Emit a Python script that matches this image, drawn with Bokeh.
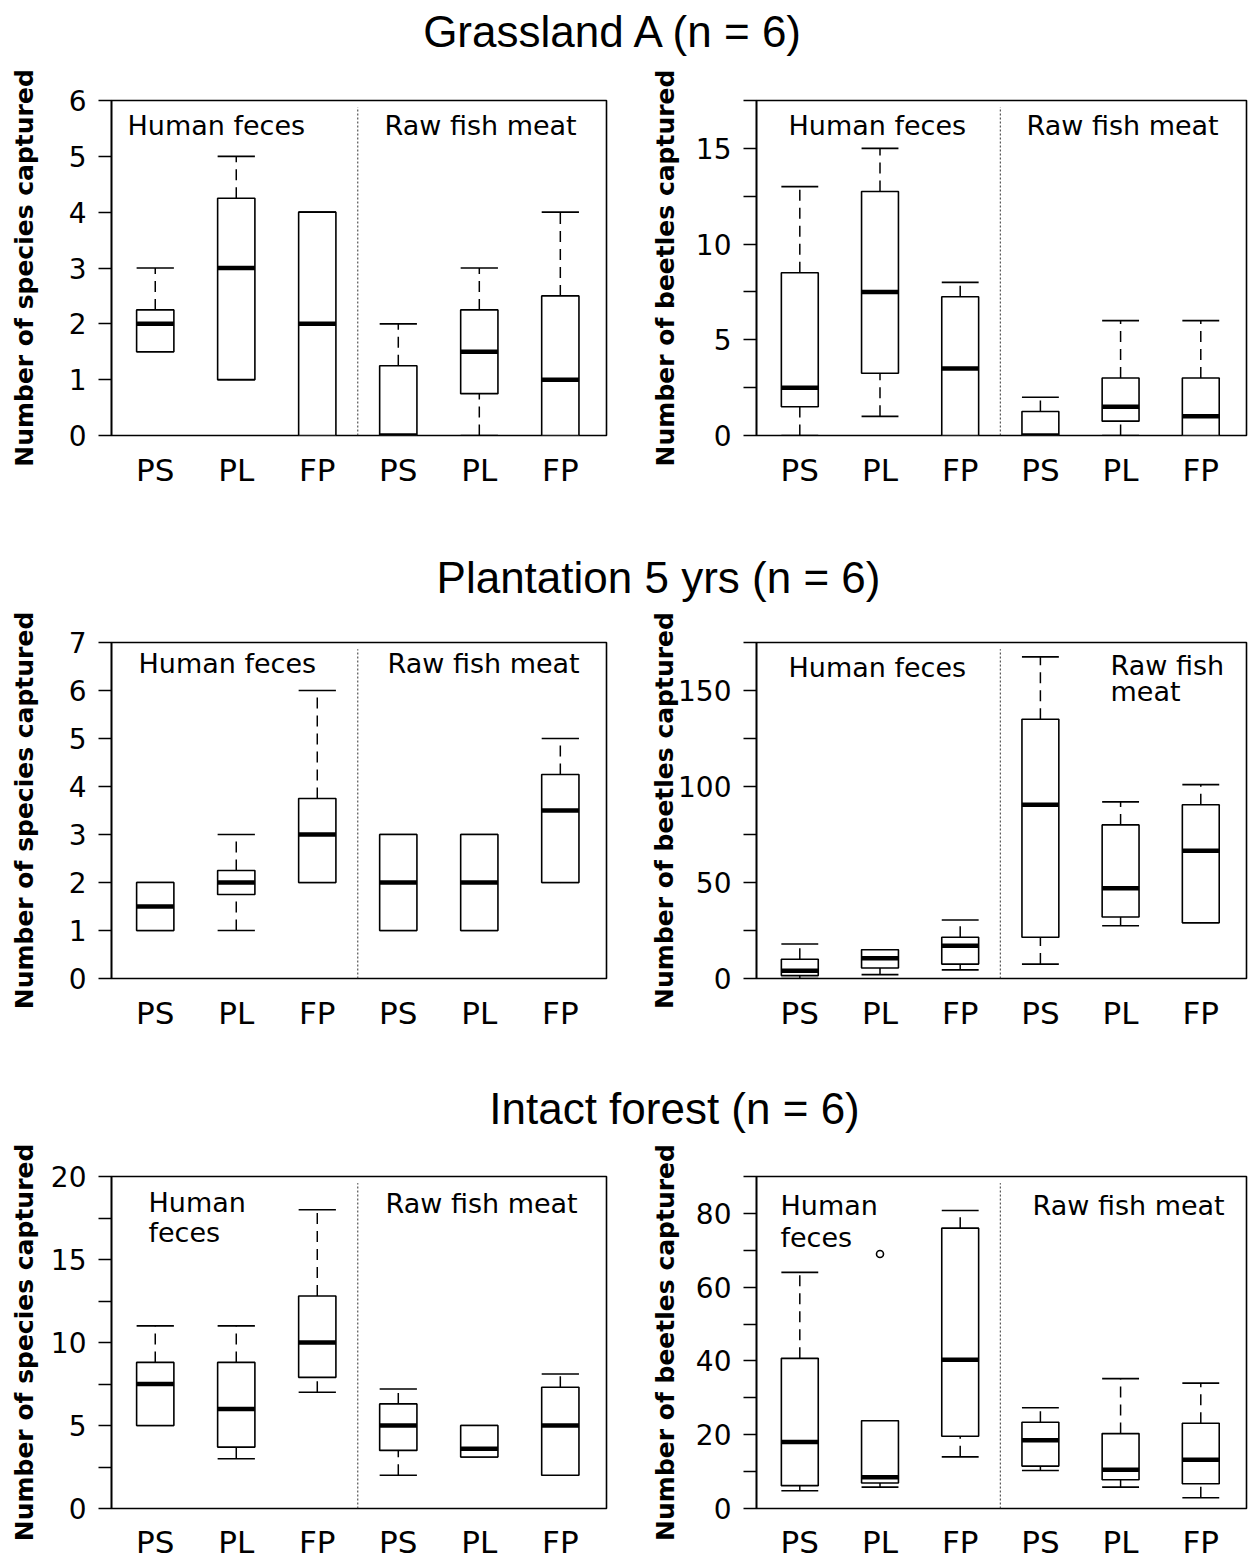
from bokeh.plotting import figure
from bokeh.layouts import column, row
from bokeh.models import Range1d, FixedTicker
from bokeh.core.properties import value
from bokeh.embed import file_html
from bokeh.resources import INLINE

# ---------------- data ----------------
categories = ["PS", "PL", "FP", "PS", "PL", "FP"]
group_names = ["Human feces", "Raw fish meat"]
titles = ["Grassland A (n = 6)", "Plantation 5 yrs (n = 6)", "Intact forest (n = 6)"]
ylabel_species = "Number of species captured"
ylabel_beetles = "Number of beetles captured"

# Grassland A - species
grass_sp_low = [1.5, 1.0, 0.0, 0.0, 0.0, 0.0]
grass_sp_q1 = [1.5, 1.0, 0.0, 0.0, 0.75, 0.0]
grass_sp_med = [2.0, 3.0, 2.0, 0.0, 1.5, 1.0]
grass_sp_q3 = [2.25, 4.25, 4.0, 1.25, 2.25, 2.5]
grass_sp_high = [3.0, 5.0, 4.0, 2.0, 3.0, 4.0]

# Grassland A - beetles
grass_bt_low = [0.0, 1.0, 0.0, 0.0, 0.0, 0.0]
grass_bt_q1 = [1.5, 3.25, 0.0, 0.0, 0.75, 0.0]
grass_bt_med = [2.5, 7.5, 3.5, 0.0, 1.5, 1.0]
grass_bt_q3 = [8.5, 12.75, 7.25, 1.25, 3.0, 3.0]
grass_bt_high = [13.0, 15.0, 8.0, 2.0, 6.0, 6.0]

# Plantation 5 yrs - species
plant_sp_low = [1.0, 1.0, 2.0, 1.0, 1.0, 2.0]
plant_sp_q1 = [1.0, 1.75, 2.0, 1.0, 1.0, 2.0]
plant_sp_med = [1.5, 2.0, 3.0, 2.0, 2.0, 3.5]
plant_sp_q3 = [2.0, 2.25, 3.75, 3.0, 3.0, 4.25]
plant_sp_high = [2.0, 3.0, 6.0, 3.0, 3.0, 5.0]

# Plantation 5 yrs - beetles
plant_bt_low = [0.0, 2.0, 4.5, 7.5, 27.5, 29.0]
plant_bt_q1 = [1.5, 5.5, 7.5, 21.5, 32.0, 29.0]
plant_bt_med = [4.0, 10.5, 17.0, 90.5, 47.0, 66.5]
plant_bt_q3 = [10.0, 15.0, 21.5, 135.0, 80.0, 90.5]
plant_bt_high = [18.0, 15.0, 30.5, 167.5, 92.0, 101.0]

# Intact forest - species
forest_sp_low = [5.0, 3.0, 7.0, 2.0, 3.1, 2.0]
forest_sp_q1 = [5.0, 3.7, 7.9, 3.5, 3.1, 2.0]
forest_sp_med = [7.5, 6.0, 10.0, 5.0, 3.6, 5.0]
forest_sp_q3 = [8.8, 8.8, 12.8, 6.3, 5.0, 7.3]
forest_sp_high = [11.0, 11.0, 18.0, 7.2, 5.0, 8.1]

# Intact forest - beetles
forest_bt_low = [4.8, 5.8, 14.0, 10.3, 5.8, 2.9]
forest_bt_q1 = [6.2, 6.9, 19.6, 11.5, 7.8, 6.7]
forest_bt_med = [18.0, 8.5, 40.3, 18.5, 10.5, 13.2]
forest_bt_q3 = [40.7, 23.8, 76.0, 23.4, 20.3, 23.1]
forest_bt_high = [64.0, 23.8, 80.8, 27.3, 35.2, 34.0]
forest_bt_outlier_cat = [2]
forest_bt_outlier_val = [69.0]

# ---------------- layout constants ----------------
X0, X1 = 0.46, 6.57
BOX_W = 0.46
xs = list(range(1, len(categories) + 1))
SEP_X = 3.5

ROWS = [  # (border_top, frame_h, border_bottom)
    (38, 335, 105),
    (37, 336, 92),
    (36, 336, 50),
]
TICK_FONT = "DejaVu Sans"
GROUP_SIZE = 27
BASE_SHIFT = 0.36  # rendered baseline sits this fraction of the font size lower


def make_panel(low, q1, med, q3, high, ymax, tick_step, label_step, ylabel,
               left_side, row_idx, ylabel_standoff, group_text,
               out_cat=None, out_val=None):
    if left_side:
        width, bl, br = 621, 111, 15
    else:
        width, bl, br = 627, 135, 2
    bt, fh, bb = ROWS[row_idx]
    height = bt + fh + bb
    fw = width - bl - br

    p = figure(width=width, height=height,
               x_range=Range1d(X0, X1), y_range=Range1d(0, ymax),
               output_backend="svg", toolbar_location=None,
               min_border_left=bl, min_border_right=br,
               min_border_top=bt, min_border_bottom=bb)
    p.xgrid.visible = False
    p.ygrid.visible = False
    p.outline_line_color = "black"
    p.outline_line_width = 1.6
    p.outline_line_alpha = 1.0
    p.background_fill_color = "white"
    p.border_fill_color = "white"

    # y axis
    n = int(round(ymax / tick_step))
    ticks = [i * tick_step for i in range(n + 1)]
    overrides = {}
    for t in ticks:
        if abs(t / label_step - round(t / label_step)) < 1e-9:
            overrides[t] = str(int(round(t)))
        else:
            overrides[t] = ""
    ya = p.yaxis[0]
    ya.ticker = FixedTicker(ticks=ticks)
    ya.major_label_overrides = overrides
    ya.major_tick_out = 13
    ya.major_tick_in = 0
    ya.minor_tick_line_color = None
    ya.major_tick_line_width = 1.5
    ya.axis_line_width = 1.6
    ya.major_label_text_font = TICK_FONT
    ya.major_label_text_font_size = "28px"
    ya.major_label_text_color = "black"
    ya.major_label_standoff = 12
    ya.axis_label = ylabel
    ya.axis_label_text_font = "DejaVu Sans"
    ya.axis_label_text_font_style = "bold"
    ya.axis_label_text_font_size = "25px"
    ya.axis_label_text_color = "black"
    ya.axis_label_standoff = ylabel_standoff

    # x axis
    xa = p.xaxis[0]
    xa.ticker = FixedTicker(ticks=xs)
    xa.major_label_overrides = {x: c for x, c in zip(xs, categories)}
    xa.major_tick_out = 0
    xa.major_tick_in = 0
    xa.minor_tick_line_color = None
    xa.axis_line_color = None
    xa.major_label_text_font = TICK_FONT
    xa.major_label_text_font_size = "31px"
    xa.major_label_text_color = "black"
    xa.major_label_standoff = 15 if row_idx == 2 else 16

    # separator
    p.segment(x0=[SEP_X], y0=[0], x1=[SEP_X], y1=[ymax * 0.98],
              line_color="#333333", line_width=1, line_dash="2 2")

    half = BOX_W / 2
    lefts = [x - half for x in xs]
    rights = [x + half for x in xs]
    dash = "11 7"
    # whiskers
    p.segment(x0=xs, y0=q3, x1=xs, y1=high, line_color="black", line_width=1.5, line_dash=dash)
    p.segment(x0=xs, y0=low, x1=xs, y1=q1, line_color="black", line_width=1.5, line_dash=dash)
    # caps
    p.segment(x0=lefts, y0=high, x1=rights, y1=high, line_color="black", line_width=1.6)
    p.segment(x0=lefts, y0=low, x1=rights, y1=low, line_color="black", line_width=1.6)
    # boxes
    p.quad(left=lefts, right=rights, bottom=q1, top=q3, fill_color="white",
           line_color="black", line_width=1.6)
    # medians
    p.segment(x0=lefts, y0=med, x1=rights, y1=med, line_color="black", line_width=4.5,
              line_cap="butt")
    if out_cat:
        p.scatter(x=out_cat, y=out_val, marker="circle", size=7, fill_color="white",
                  line_color="black", line_width=1.6)

    # group labels, positioned by pixel offsets inside the frame
    gx, gy, gt = [], [], []
    for txt, dx, dy in group_text:
        dy_adj = dy - BASE_SHIFT * GROUP_SIZE
        gx.append(X0 + dx * (X1 - X0) / fw)
        gy.append(ymax - dy_adj * ymax / fh)
        gt.append(txt)
    p.text(x=gx, y=gy, text=gt, text_font=value("DejaVu Sans"),
           text_font_size=f"{GROUP_SIZE}px",
           text_align="left", text_baseline="alphabetic", text_color="black")
    return p


def title_fig(text, cx, baseline_from_top, h):
    size = 44
    t = figure(width=1248, height=h, x_range=Range1d(0, 1248), y_range=Range1d(0, h),
               x_axis_type=None, y_axis_type=None, output_backend="svg",
               toolbar_location=None, min_border=0, outline_line_color=None)
    t.text(x=[cx], y=[h - (baseline_from_top - BASE_SHIFT * size)], text=[text],
           text_align="center", text_baseline="alphabetic",
           text_font=value("Liberation Sans"), text_font_size=f"{size}px",
           text_color="black")
    return t


hf, rf = group_names
p1 = make_panel(grass_sp_low, grass_sp_q1, grass_sp_med, grass_sp_q3, grass_sp_high,
                6, 1, 1, ylabel_species, True, 0, 27,
                [(hf, 16, 35), (rf, 273, 35)])
p2 = make_panel(grass_bt_low, grass_bt_q1, grass_bt_med, grass_bt_q3, grass_bt_high,
                17.5, 2.5, 5, ylabel_beetles, False, 0, 13,
                [(hf, 32, 35), (rf, 270, 35)])
p3 = make_panel(plant_sp_low, plant_sp_q1, plant_sp_med, plant_sp_q3, plant_sp_high,
                7, 1, 1, ylabel_species, True, 1, 27,
                [(hf, 27, 31), (rf, 276, 31)])
p4 = make_panel(plant_bt_low, plant_bt_q1, plant_bt_med, plant_bt_q3, plant_bt_high,
                175, 25, 50, ylabel_beetles, False, 1, -4,
                [(hf, 32, 35), ("Raw fish", 354, 33), ("meat", 354, 59)])
p5 = make_panel(forest_sp_low, forest_sp_q1, forest_sp_med, forest_sp_q3, forest_sp_high,
                20, 2.5, 5, ylabel_species, True, 2, 9,
                [("Human", 37, 36), ("feces", 37, 66), (rf, 274, 37)])
p6 = make_panel(forest_bt_low, forest_bt_q1, forest_bt_med, forest_bt_q3, forest_bt_high,
                90, 10, 20, ylabel_beetles, False, 2, 13,
                [("Human", 24, 39), ("feces", 24, 71), (rf, 276, 39)],
                forest_bt_outlier_cat, forest_bt_outlier_val)

t1 = title_fig(titles[0], 614, 47, 62)
t2 = title_fig(titles[1], 658, 53, 65)
t3 = title_fig(titles[2], 674, 54, 70)

layout = column(t1, row(p1, p2), t2, row(p3, p4), t3, row(p5, p6))
open("out.html", "w").write(file_html(layout, INLINE))
